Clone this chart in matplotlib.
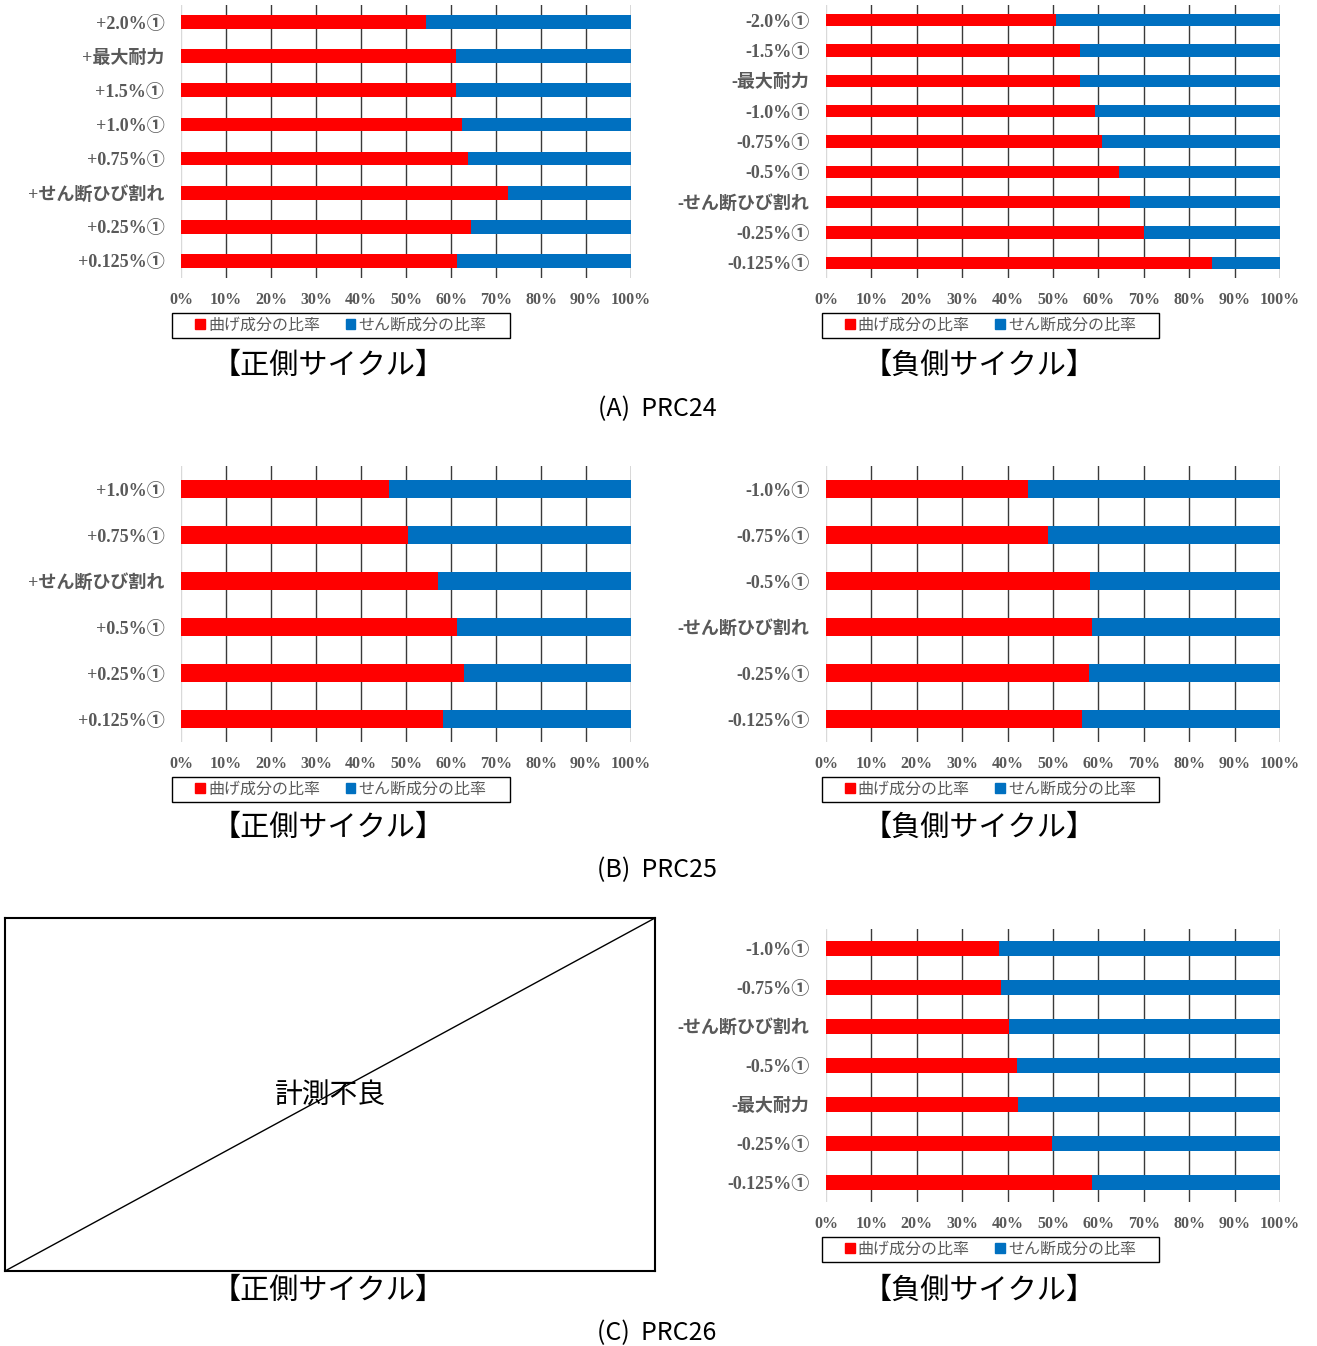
#!/usr/bin/env python3
""" Bending / shear component ratio bar charts (PRC24-26) """
import matplotlib.pyplot as plt
import numpy as np
from matplotlib.patches import Patch, Rectangle

plt.rcParams["font.family"] = ["Noto Sans CJK JP", "DejaVu Sans"]

W, H = 1317, 1346

# ---- data (percent, top row first) ----
a_pos_labels = ["+2.0%①", "+最大耐力", "+1.5%①", "+1.0%①", "+0.75%①",
                "+せん断ひび割れ", "+0.25%①", "+0.125%①"]
a_pos_bend = [54.4, 61.0, 61.0, 62.4, 63.8, 72.7, 64.5, 61.4]
a_pos_shear = [45.6, 39.0, 39.0, 37.6, 36.2, 27.3, 35.5, 38.6]

a_neg_labels = ["-2.0%①", "-1.5%①", "-最大耐力", "-1.0%①", "-0.75%①",
                "-0.5%①", "-せん断ひび割れ", "-0.25%①", "-0.125%①"]
a_neg_bend = [50.6, 56.0, 56.0, 59.3, 60.9, 64.5, 67.0, 70.0, 85.0]
a_neg_shear = [49.4, 44.0, 44.0, 40.7, 39.1, 35.5, 33.0, 30.0, 15.0]

b_pos_labels = ["+1.0%①", "+0.75%①", "+せん断ひび割れ", "+0.5%①",
                "+0.25%①", "+0.125%①"]
b_pos_bend = [46.3, 50.4, 57.1, 61.4, 62.9, 58.3]
b_pos_shear = [53.7, 49.6, 42.9, 38.6, 37.1, 41.7]

b_neg_labels = ["-1.0%①", "-0.75%①", "-0.5%①", "-せん断ひび割れ",
                "-0.25%①", "-0.125%①"]
b_neg_bend = [44.5, 48.9, 58.2, 58.7, 57.9, 56.4]
b_neg_shear = [55.5, 51.1, 41.8, 41.3, 42.1, 43.6]

c_neg_labels = ["-1.0%①", "-0.75%①", "-せん断ひび割れ", "-0.5%①",
                "-最大耐力", "-0.25%①", "-0.125%①"]
c_neg_bend = [38.0, 38.6, 40.2, 42.1, 42.4, 49.8, 58.5]
c_neg_shear = [62.0, 61.4, 59.8, 57.9, 57.6, 50.2, 41.5]

x_ticks = [0, 10, 20, 30, 40, 50, 60, 70, 80, 90, 100]
legend_labels = ["曲げ成分の比率", "せん断成分の比率"]

RED = "#FF0000"
BLUE = "#0070C0"
GRAY_TXT = "#595959"
LABEL_FONT = ["Liberation Serif", "Noto Sans CJK JP", "DejaVu Sans"]


def px_rect(left, top, right, bottom):
    """pixel box -> figure fraction rect"""
    return [left / W, 1 - bottom / H, (right - left) / W, (bottom - top) / H]


def bar_panel(fig, rect, labels, bend, shear, legend_box):
    """Draw one 100% stacked horizontal bar chart with its legend"""
    ax = fig.add_axes(px_rect(*rect))
    y = np.arange(len(labels))
    ax.barh(y, bend, height=0.4, color=RED, zorder=3)
    ax.barh(y, shear, left=bend, height=0.4, color=BLUE, zorder=3)
    ax.set_ylim(len(labels) - 0.5, -0.5)
    ax.set_xlim(0, 100)

    ax.set_xticks(x_ticks)
    ax.set_xticklabels([f"{t}%" for t in x_ticks], family=LABEL_FONT,
                       fontweight="bold", fontsize=11.5, color=GRAY_TXT)
    ax.set_yticks(y)
    ax.set_yticklabels(labels, family=LABEL_FONT, fontweight="bold",
                       fontsize=13, color=GRAY_TXT)
    ax.tick_params(axis="x", length=0, pad=10)
    ax.tick_params(axis="y", length=0, pad=12)

    for sp in ax.spines.values():
        sp.set_visible(False)
    ax.grid(axis="x", color="#3a3a3a", lw=1, zorder=1)
    ax.get_xgridlines()[0].set_color("#d9d9d9")

    # legend: entries centred, frame drawn separately over the pixel box
    handles = [Patch(color=RED), Patch(color=BLUE)]
    l, t, r, b = legend_box
    leg = fig.legend(handles, legend_labels, ncol=2, loc="center",
                     bbox_to_anchor=((l + r) / 2 / W, 1 - (t + b) / 2 / H),
                     frameon=False, handlelength=0.6, handleheight=0.6,
                     handletextpad=0.2, columnspacing=1.6, borderpad=0.2,
                     prop={"family": "Noto Sans CJK JP", "size": 11.5})
    for txt in leg.get_texts():
        txt.set_color(GRAY_TXT)
    fig.patches.append(Rectangle((l / W, 1 - b / H), (r - l) / W, (b - t) / H,
                                 transform=fig.transFigure, fill=False,
                                 edgecolor="black", lw=1.0))
    return ax


def fig_text(x, y, s, size):
    fig.text(x / W, 1 - y / H, s, ha="center", va="center", fontsize=size,
             family="Noto Sans CJK JP", color="black")


fig = plt.figure(figsize=(W / 100, H / 100), dpi=100)

# (A) PRC24
bar_panel(fig, (181, 5, 631, 278), a_pos_labels, a_pos_bend, a_pos_shear,
          (172, 313, 510, 338))
bar_panel(fig, (826, 5, 1280, 278), a_neg_labels, a_neg_bend, a_neg_shear,
          (822, 313, 1159, 338))
fig_text(328, 366, "【正側サイクル】", 21)
fig_text(979, 366, "【負側サイクル】", 21)
fig_text(657, 409, "(A)  PRC24", 18)

# (B) PRC25
bar_panel(fig, (181, 466, 631, 742), b_pos_labels, b_pos_bend, b_pos_shear,
          (172, 777, 510, 802))
bar_panel(fig, (826, 466, 1280, 742), b_neg_labels, b_neg_bend, b_neg_shear,
          (822, 777, 1159, 802))
fig_text(328, 828, "【正側サイクル】", 21)
fig_text(979, 828, "【負側サイクル】", 21)
fig_text(657, 870, "(B)  PRC25", 18)

# (C) PRC26 - positive side not measured
ax_na = fig.add_axes(px_rect(5, 918, 655, 1271))
ax_na.plot([0, 1], [0, 1], color="black", lw=1, transform=ax_na.transAxes)
ax_na.text(0.5, 0.5, "計測不良", ha="center", va="center", fontsize=20,
           transform=ax_na.transAxes)
ax_na.set_xticks([])
ax_na.set_yticks([])
for sp in ax_na.spines.values():
    sp.set_linewidth(1.5)

bar_panel(fig, (826, 929, 1280, 1202), c_neg_labels, c_neg_bend, c_neg_shear,
          (822, 1237, 1159, 1262))
fig_text(328, 1291, "【正側サイクル】", 21)
fig_text(979, 1291, "【負側サイクル】", 21)
fig_text(657, 1333, "(C)  PRC26", 18)

fig.savefig("out.png", dpi=100)
